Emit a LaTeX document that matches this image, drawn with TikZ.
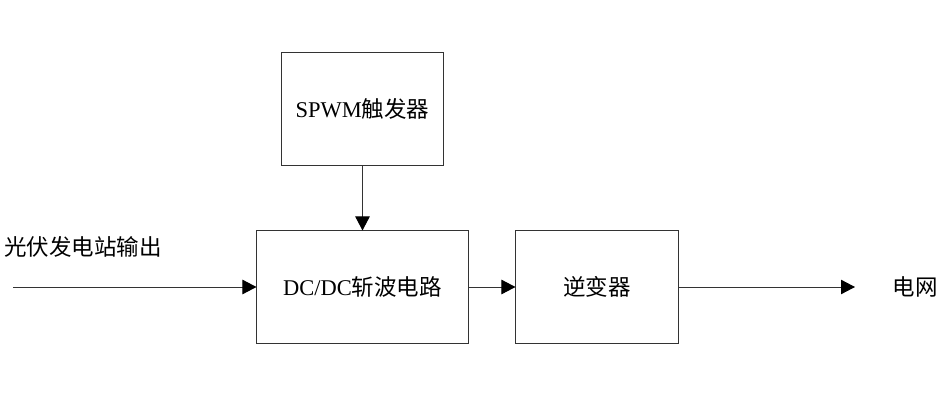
\documentclass[tikz,border=0pt]{standalone}
\usepackage{fontspec}
\setmainfont{Liberation Serif}
\newfontfamily\cjk{Noto Sans CJK SC}
\usetikzlibrary{positioning, arrows.meta}
\definecolor{lineclr}{HTML}{333333}

\begin{document}
\begin{tikzpicture}[x=0.025cm, y=-0.025cm,
    block/.style={draw=lineclr, line width=0.7pt, fill=white, minimum height=2.8cm,
                  font=\fontsize{16}{19}\selectfont, align=center, inner sep=0pt},
    lbl/.style={font=\fontsize{16}{19}\selectfont, inner sep=0pt},
    flow/.style={draw=lineclr, line width=0.7pt,
                 -{Triangle[length=0.35cm, width=0.36cm, color=black]}}]
    \useasboundingbox (0,0) rectangle (946,400);
    % blocks
    \node[block, minimum width=4.025cm] (spwm) at (362.5,109) {SPWM{\cjk 触发器}};
    \node[block, minimum width=5.275cm] (chopper) at (362.5,287) {DC/DC{\cjk 斩波电路}};
    \node[block, minimum width=4.05cm] (inverter) at (597,287) {\cjk 逆变器};
    % input and output
    \coordinate (src) at (13,287);
    \coordinate (out) at (855,287);
    \node[lbl] (srclbl) at (83,247) {\cjk 光伏发电站输出};
    \node[lbl] (grid) at (915,287) {\cjk 电网};
    % connectors
    \draw[flow] (src) -- (chopper.west);
    \draw[flow] (spwm) -- (chopper);
    \draw[flow] (chopper) -- (inverter);
    \draw[flow] (inverter.east) -- (out);
\end{tikzpicture}
\end{document}
